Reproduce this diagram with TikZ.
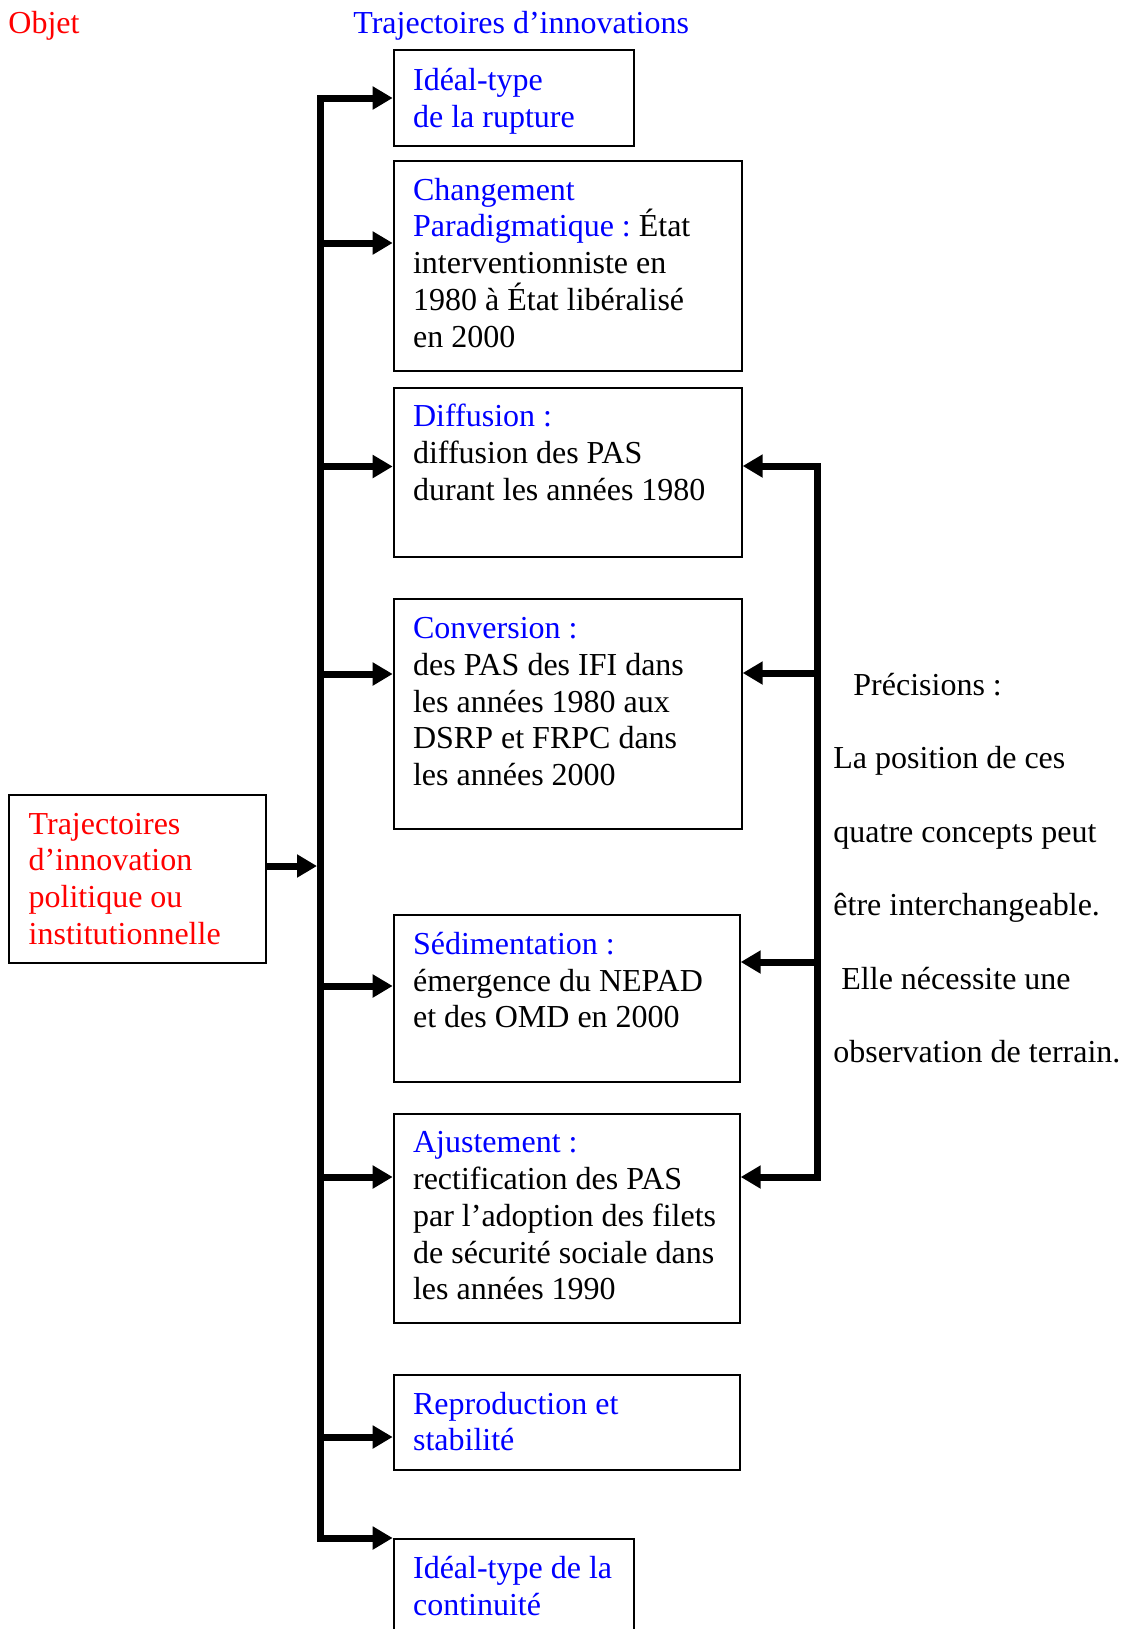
\documentclass[tikz,border=0pt]{standalone}
\usepackage{fontspec}
\setmainfont{Liberation Serif}
\frenchspacing
\usetikzlibrary{arrows.meta}
\newcommand{\police}{\fontsize{16}{18.4}\selectfont}
\newcommand{\policeprec}{\fontsize{16}{36.75}\selectfont}
\newcommand{\bleu}[1]{\textcolor{blue}{#1}}
\tikzset{
	cadre/.style={draw, line width=1pt, anchor=north west, inner sep=0pt},
	texte/.style={anchor=base west, inner sep=0pt, text width=170pt, align=flush left, font=\police},
	fleche/.style={line width=3.5pt, -{Triangle[length=10pt,width=11pt]}},
	tronc/.style={line width=3.5pt, line cap=rect}
}
\begin{document}
\begin{tikzpicture}[x=0.5pt,y=-0.5pt]
	\useasboundingbox (0,0) rectangle (1123,1629);
	\node[texte, text=red] (objet) at (8,33) {Objet};
	\node[texte, text=blue, text width=200pt] (titre) at (353,33) {Trajectoires d'innovations};
	\node[cadre, minimum width=128.5pt, minimum height=84pt] (b0) at (8.3,794) {};
	\node[cadre, minimum width=120pt, minimum height=48pt] (b1) at (392.7,48.5) {};
	\node[cadre, minimum width=174pt, minimum height=105pt] (b2) at (392.7,160) {};
	\node[cadre, minimum width=174pt, minimum height=84.5pt] (b3) at (392.7,386.5) {};
	\node[cadre, minimum width=174pt, minimum height=115pt] (b4) at (392.7,598.4) {};
	\node[cadre, minimum width=173pt, minimum height=83.5pt] (b5) at (392.7,914.2) {};
	\node[cadre, minimum width=173pt, minimum height=104.5pt] (b6) at (392.7,1112.7) {};
	\node[cadre, minimum width=173pt, minimum height=47.5pt] (b7) at (392.7,1374) {};
	\node[cadre, minimum width=120pt, minimum height=48pt] (b8) at (392.7,1538.3) {};
	\node[texte, text=red] (t0) at ([shift={(20,40)}]b0.north west) {Trajectoires\\ d'innovation\\ politique ou\\ institutionnelle};
	\node[texte, text=blue] (t1) at ([shift={(20,42)}]b1.north west) {Idéal-type\\ de la rupture};
	\node[texte] (t2) at ([shift={(20,40)}]b2.north west) {\bleu{Changement}\\ \bleu{Paradigmatique :} État\\ interventionniste en\\ 1980 à État libéralisé\\ en 2000};
	\node[texte] (t3) at ([shift={(20,40)}]b3.north west) {\bleu{Diffusion :}\\ diffusion des PAS\\ durant les années 1980};
	\node[texte] (t4) at ([shift={(20,40)}]b4.north west) {\bleu{Conversion :}\\ des PAS des IFI dans\\ les années 1980 aux\\ DSRP et FRPC dans\\ les années 2000};
	\node[texte] (t5) at ([shift={(20,40)}]b5.north west) {\bleu{Sédimentation :}\\ émergence du NEPAD\\ et des OMD en 2000};
	\node[texte] (t6) at ([shift={(20,40)}]b6.north west) {\bleu{Ajustement :}\\ rectification des PAS\\ par l'adoption des filets\\ de sécurité sociale dans\\ les années 1990};
	\node[texte, text=blue] (t7) at ([shift={(20,40)}]b7.north west) {Reproduction et\\ stabilité};
	\node[texte, text=blue] (t8) at ([shift={(20,40)}]b8.north west) {Idéal-type de la\\ continuité};
	\node[texte, text width=200pt, font=\policeprec] (prec) at (833,695) {\hspace*{10pt}Précisions :\\ La position de ces\\ quatre concepts peut\\ être interchangeable.\\ \hspace*{4pt}Elle nécessite une\\ observation de terrain.};
	\coordinate (g1) at (320.5,98);
	\coordinate (g2) at (320.5,243);
	\coordinate (g3) at (320.5,466.5);
	\coordinate (g4) at (320.5,674);
	\coordinate (g5) at (320.5,986);
	\coordinate (g6) at (320.5,1177);
	\coordinate (g7) at (320.5,1437);
	\coordinate (g8) at (320.5,1538);
	\coordinate (m) at (317,866);
	\draw[tronc] (g1) -- (g8);
	\draw[fleche] (m -| b0.east) -- (m);
	\draw[fleche] (g1) -- (g1 -| b1.west);
	\draw[fleche] (g2) -- (g2 -| b2.west);
	\draw[fleche] (g3) -- (g3 -| b3.west);
	\draw[fleche] (g4) -- (g4 -| b4.west);
	\draw[fleche] (g5) -- (g5 -| b5.west);
	\draw[fleche] (g6) -- (g6 -| b6.west);
	\draw[fleche] (g7) -- (g7 -| b7.west);
	\draw[fleche] (g8) -- (g8 -| b8.west);
	\coordinate (d1) at (817,466);
	\coordinate (d2) at (817,673);
	\coordinate (d3) at (817,962);
	\coordinate (d4) at (817,1177);
	\draw[tronc] (d1) -- (d4);
	\draw[fleche] (d1) -- (d1 -| b3.east);
	\draw[fleche] (d2) -- (d2 -| b4.east);
	\draw[fleche] (d3) -- (d3 -| b5.east);
	\draw[fleche] (d4) -- (d4 -| b6.east);
\end{tikzpicture}
\end{document}
